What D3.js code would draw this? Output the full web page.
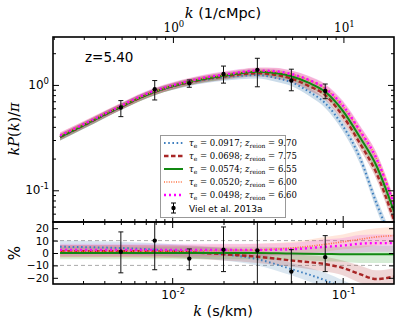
<!DOCTYPE html>
<html>
<head>
<meta charset="utf-8">
<script src="https://cdn.jsdelivr.net/npm/d3@7.9.0/dist/d3.min.js"></script>
<style>
  body { margin: 0; background: #fff; }
  svg { display: block; }
  text { font-family: "DejaVu Sans", sans-serif; fill: #000; }
  .serif { font-family: "DejaVu Serif", serif; }
</style>
</head>
<body>
<svg id="chart" width="399" height="326"></svg>
<script>
// k grid (s/km) for the model curves
const kGrid = [0.0022, 0.003, 0.004, 0.005, 0.0063, 0.0079, 0.01, 0.0126, 0.0158, 0.02,
               0.025, 0.0316, 0.04, 0.05, 0.063, 0.079, 0.1, 0.126, 0.158, 0.2];
// kP(k)/pi for each model
const pkTau0917 = [0.32, 0.41, 0.52, 0.62, 0.74, 0.86, 0.96, 1.05, 1.12, 1.18, 1.22, 1.24, 1.17, 1.06, 0.87, 0.67, 0.41, 0.205, 0.075, 0.03];
const pkTau0698 = [0.32, 0.41, 0.52, 0.62, 0.74, 0.86, 0.97, 1.06, 1.14, 1.20, 1.26, 1.29, 1.25, 1.15, 0.98, 0.80, 0.51, 0.28, 0.145, 0.052];
const pkTau0574 = [0.32, 0.41, 0.52, 0.62, 0.74, 0.86, 0.97, 1.07, 1.15, 1.22, 1.29, 1.33, 1.30, 1.21, 1.05, 0.86, 0.57, 0.32, 0.17, 0.063];
const pkTau0520 = [0.33, 0.42, 0.53, 0.63, 0.75, 0.87, 0.98, 1.08, 1.17, 1.24, 1.31, 1.36, 1.34, 1.26, 1.11, 0.92, 0.63, 0.365, 0.20, 0.074];
const pkTau0498 = [0.33, 0.42, 0.53, 0.63, 0.76, 0.88, 0.99, 1.09, 1.18, 1.25, 1.32, 1.37, 1.35, 1.27, 1.12, 0.93, 0.64, 0.37, 0.20, 0.073];
// relative width of the shaded band in the upper panel
const bandTop = [0.07, 0.07, 0.07, 0.07, 0.07, 0.07, 0.07, 0.07, 0.07, 0.07,
                 0.07, 0.07, 0.08, 0.08, 0.09, 0.10, 0.11, 0.12, 0.13, 0.14];

// k grid for the percent panel
const kPct = [0.0022, 0.005, 0.01, 0.02, 0.0316, 0.05, 0.079, 0.1, 0.126, 0.158, 0.2];
const pctTau0917 = [5, 4, 2, -1, -5, -13, -22, -28, -35, -40, -45];
const pctTau0698 = [1.5, 1.5, 1, -1, -3, -6, -9, -12, -17, -21, -19];
const pctTau0574 = [0, 0, 0, 0, 0, -0.5, -0.8, -1, -1, -1, -1];
const pctTau0520 = [1.5, 1.5, 1.5, 2, 2.5, 4, 7, 9, 11, 13, 14];
const pctTau0498 = [2.5, 2.5, 2.5, 2.5, 2.5, 3, 5, 6, 7.5, 8, 8];
const bandPct = [5, 5, 5, 5, 5, 5, 6, 6, 7, 7, 7];

// Viel et al. 2013a
const kData = [0.005, 0.0079, 0.0126, 0.02, 0.0316, 0.05, 0.079];
const pkData = [0.61, 0.91, 1.04, 1.27, 1.39, 1.10, 0.877];
const pkLo = [0.50, 0.72, 0.95, 1.04, 0.96, 0.88, 0.74];
const pkHi = [0.71, 1.10, 1.115, 1.51, 1.79, 1.41, 1.02];
const pctData = [1, 10, -4.5, 2.7, 2, -15, -3.3];
const pctLo = [-16, -13.5, -13.5, -15, -30, -30, -15];
const pctHi = [17, 30, 3.3, 21, 30, 2.7, 14];

const tauLabels = ["0.0917", "0.0698", "0.0574", "0.0520", "0.0498"];
const zLabels = ["9.70", "7.75", "6.55", "6.00", "6.60"];
const pctTicks = [-20, -10, 0, 10, 20];
const kConv = 99; // s/km -> 1/cMpc at z=5.4

const styles = [
  { color: "#3f7fbf", band: "#4682b4", dash: "1.6,2.6", width: 2 },
  { color: "#a82626", band: "#b03030", dash: "4.5,2.5", width: 2.4 },
  { color: "#118811", band: "#2ca02c", dash: null, width: 2 },
  { color: "#ff7040", band: "#ff8050", dash: "1,1.4", width: 1.6 },
  { color: "#ff00ff", band: "#e040e0", dash: "2,3", width: 2.4 }
];
const pkSeries = [pkTau0917, pkTau0698, pkTau0574, pkTau0520, pkTau0498];
const pctSeries = [pctTau0917, pctTau0698, pctTau0574, pctTau0520, pctTau0498];

const L = 53, R = 394, T = 37, M = 222, B = 284;
const svg = d3.select("#chart");

const x = d3.scaleLog().domain([0.002, 0.2]).range([L, R]);
const xTop = d3.scaleLog().domain([0.002 * kConv, 0.2 * kConv]).range([L, R]);
const yTop = d3.scaleLog().domain([0.05, 2.85]).range([M, T]);
const yBot = d3.scaleLinear().domain([-25, 25]).range([B, M]);

const defs = svg.append("defs");
defs.append("clipPath").attr("id", "clipTop").append("rect")
  .attr("x", L).attr("y", T).attr("width", R - L).attr("height", M - T);
defs.append("clipPath").attr("id", "clipBot").append("rect")
  .attr("x", L).attr("y", M).attr("width", R - L).attr("height", B - M);

const gTop = svg.append("g").attr("clip-path", "url(#clipTop)");
const gBot = svg.append("g").attr("clip-path", "url(#clipBot)");

// bands + lines, upper panel
pkSeries.forEach((pk, i) => {
  const area = d3.area().curve(d3.curveMonotoneX)
    .x((d, j) => x(kGrid[j]))
    .y0((d, j) => yTop(d * (1 - bandTop[j])))
    .y1((d, j) => yTop(d * (1 + bandTop[j])));
  gTop.append("path").attr("d", area(pk))
    .attr("fill", styles[i].band).attr("opacity", 0.28);
});
pkSeries.forEach((pk, i) => {
  const line = d3.line().curve(d3.curveMonotoneX)
    .x((d, j) => x(kGrid[j])).y(d => yTop(d));
  gTop.append("path").attr("d", line(pk))
    .attr("fill", "none").attr("stroke", styles[i].color)
    .attr("stroke-width", styles[i].width)
    .attr("stroke-dasharray", styles[i].dash);
});

// lower panel
[-10, 10].forEach(v => {
  gBot.append("line").attr("x1", L).attr("x2", R).attr("y1", yBot(v)).attr("y2", yBot(v))
    .attr("stroke", "#aaa").attr("stroke-width", 1).attr("stroke-dasharray", "4,3");
});
pctSeries.forEach((p, i) => {
  const area = d3.area().curve(d3.curveMonotoneX)
    .x((d, j) => x(kPct[j]))
    .y0((d, j) => yBot(d - bandPct[j]))
    .y1((d, j) => yBot(d + bandPct[j]));
  gBot.append("path").attr("d", area(p))
    .attr("fill", styles[i].band).attr("opacity", 0.2);
});
pctSeries.forEach((p, i) => {
  const line = d3.line().curve(d3.curveMonotoneX)
    .x((d, j) => x(kPct[j])).y(d => yBot(d));
  gBot.append("path").attr("d", line(p))
    .attr("fill", "none").attr("stroke", styles[i].color)
    .attr("stroke-width", styles[i].width)
    .attr("stroke-dasharray", styles[i].dash);
});

// error bars
function errorBars(g, y, vals, lo, hi) {
  kData.forEach((k, i) => {
    const cx = x(k);
    g.append("line").attr("x1", cx).attr("x2", cx).attr("y1", y(lo[i])).attr("y2", y(hi[i]))
      .attr("stroke", "#111").attr("stroke-width", 1);
    [lo[i], hi[i]].forEach(v => {
      g.append("line").attr("x1", cx - 2.5).attr("x2", cx + 2.5).attr("y1", y(v)).attr("y2", y(v))
        .attr("stroke", "#111").attr("stroke-width", 1);
    });
    g.append("circle").attr("cx", cx).attr("cy", y(vals[i])).attr("r", 2.2).attr("fill", "#000");
  });
}
errorBars(gTop, yTop, pkData, pkLo, pkHi);
errorBars(gBot, yBot, pctData, pctLo, pctHi);

// ticks
function ticks(axis, tx, ty, values, size) {
  svg.append("g").attr("transform", `translate(${tx},${ty})`)
    .call(axis.tickValues(values).tickSize(size).tickFormat(""))
    .call(g => g.select(".domain").remove())
    .call(g => g.selectAll("line").attr("stroke", "#000").attr("stroke-width", 1));
}
const minorX = [0.003, 0.004, 0.005, 0.006, 0.007, 0.008, 0.009, 0.02, 0.03, 0.04, 0.05, 0.06, 0.07, 0.08, 0.09];
const minorXTop = [0.2, 0.3, 0.4, 0.5, 0.6, 0.7, 0.8, 0.9, 2, 3, 4, 5, 6, 7, 8, 9];
const minorY = [0.06, 0.07, 0.08, 0.09, 0.2, 0.3, 0.4, 0.5, 0.6, 0.7, 0.8, 0.9, 2];
// upper panel
ticks(d3.axisTop(x), 0, M, [0.01, 0.1], 6);
ticks(d3.axisTop(x), 0, M, minorX, 3);
ticks(d3.axisBottom(xTop), 0, T, [1, 10], 6);
ticks(d3.axisBottom(xTop), 0, T, minorXTop, 3);
ticks(d3.axisRight(yTop), L, 0, [0.1, 1], 6);
ticks(d3.axisRight(yTop), L, 0, minorY, 3);
ticks(d3.axisLeft(yTop), R, 0, [0.1, 1], 6);
ticks(d3.axisLeft(yTop), R, 0, minorY, 3);
// lower panel
ticks(d3.axisTop(x), 0, B, [0.01, 0.1], 6);
ticks(d3.axisTop(x), 0, B, minorX, 3);
ticks(d3.axisBottom(x), 0, M, [0.01, 0.1], 6);
ticks(d3.axisBottom(x), 0, M, minorX, 3);
ticks(d3.axisRight(yBot), L, 0, pctTicks, 5);
ticks(d3.axisLeft(yBot), R, 0, pctTicks, 5);

// frames
[[T, M], [M, B]].forEach(([a, b]) => {
  svg.append("rect").attr("x", L).attr("y", a).attr("width", R - L).attr("height", b - a)
    .attr("fill", "none").attr("stroke", "#000").attr("stroke-width", 1.6);
});

// tick labels
function powLabel(px, py, exp, anchor, cls) {
  const t = svg.append("text").attr("x", px).attr("y", py).attr("text-anchor", anchor)
    .attr("font-size", 12).attr("class", cls || null);
  t.append("tspan").text("10");
  t.append("tspan").attr("dy", -5).attr("font-size", 8.5).text(exp);
}
powLabel(x(0.01) + 1, 299, "-2", "middle");
powLabel(x(0.1) + 1, 299, "-1", "middle");
powLabel(xTop(1) + 1, 32, "0", "middle", "serif");
powLabel(xTop(10) + 1, 32, "1", "middle", "serif");
powLabel(49, yTop(1) + 4, "0", "end");
powLabel(49, yTop(0.1) + 4, "-1", "end");
pctTicks.forEach(v => {
  svg.append("text").attr("x", 49).attr("y", yBot(v) + 4).attr("text-anchor", "end")
    .attr("font-size", 10.5).text(v < 0 ? "\u2212" + Math.abs(v) : v);
});

// axis titles
const tTop = svg.append("text").attr("x", 223).attr("y", 18).attr("text-anchor", "middle").attr("font-size", 14.5);
tTop.append("tspan").attr("class", "serif").attr("font-style", "italic").text("k");
tTop.append("tspan").text(" (1/cMpc)");
const tBot = svg.append("text").attr("x", 223).attr("y", 316).attr("text-anchor", "middle").attr("font-size", 14.5);
tBot.append("tspan").attr("class", "serif").attr("font-style", "italic").text("k");
tBot.append("tspan").text(" (s/km)");
const yl = svg.append("text").attr("transform", "translate(19,129) rotate(-90)")
  .attr("text-anchor", "middle").attr("font-size", 14.5).attr("class", "serif");
yl.append("tspan").attr("font-style", "italic").text("kP");
yl.append("tspan").text("(");
yl.append("tspan").attr("font-style", "italic").text("k");
yl.append("tspan").text(")/");
yl.append("tspan").attr("font-style", "italic").text("\u03c0");
svg.append("text").attr("transform", "translate(20,253) rotate(-90)")
  .attr("text-anchor", "middle").attr("font-size", 15).text("%");
svg.append("text").attr("x", 85).attr("y", 62).attr("font-size", 13.5).text("z=5.40");

// legend
const lg = svg.append("g");
lg.append("rect").attr("x", 160.5).attr("y", 135.5).attr("width", 125).attr("height", 82)
  .attr("fill", "#fff").attr("fill-opacity", 0.85).attr("stroke", "#999").attr("stroke-width", 1);
styles.forEach((s, i) => {
  const ly = 143 + i * 13;
  lg.append("line").attr("x1", 164).attr("x2", 183).attr("y1", ly).attr("y2", ly)
    .attr("stroke", s.color).attr("stroke-width", s.width).attr("stroke-dasharray", s.dash);
  const t = lg.append("text").attr("x", 189).attr("y", ly + 3).attr("class", "serif").attr("font-size", 8.5);
  t.append("tspan").attr("font-style", "italic").text("\u03c4");
  t.append("tspan").attr("dy", 2).attr("font-size", 6).text("e");
  t.append("tspan").attr("dy", -2).text(" = " + tauLabels[i] + "; ");
  t.append("tspan").attr("font-style", "italic").text("z");
  t.append("tspan").attr("dy", 2).attr("font-size", 6).text("reion");
  t.append("tspan").attr("dy", -2).text(" = " + zLabels[i]);
});
const ey = 143 + 5 * 13;
lg.append("line").attr("x1", 173.5).attr("x2", 173.5).attr("y1", ey - 5).attr("y2", ey + 5).attr("stroke", "#000");
[ey - 5, ey + 5].forEach(v => lg.append("line").attr("x1", 171).attr("x2", 176).attr("y1", v).attr("y2", v).attr("stroke", "#000"));
lg.append("circle").attr("cx", 173.5).attr("cy", ey).attr("r", 2.2).attr("fill", "#000");
lg.append("text").attr("x", 189).attr("y", ey + 3.5).attr("font-size", 9).text("Viel et al. 2013a");
</script>
</body>
</html>
